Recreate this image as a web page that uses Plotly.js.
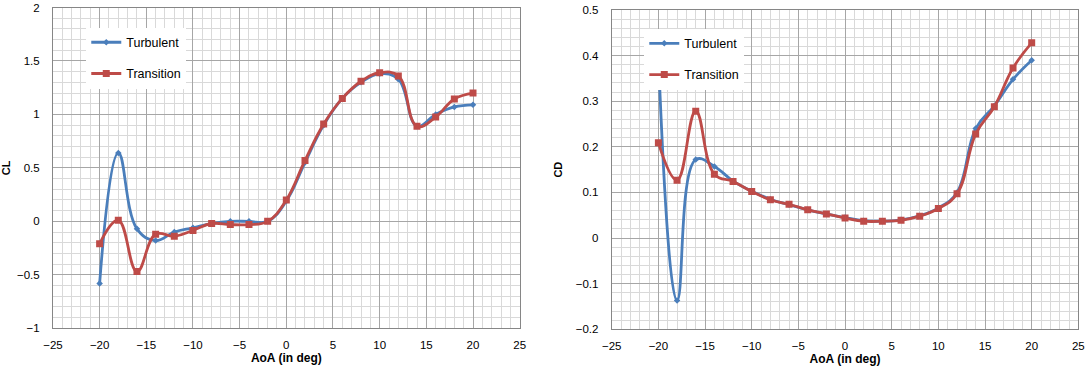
<!DOCTYPE html>
<html>
<head>
<meta charset="utf-8">
<script src="https://cdn.plot.ly/plotly-3.0.1.min.js"></script>
<style>
  html, body { margin: 0; padding: 0; background: #ffffff; }
  #chart { width: 1092px; height: 368px; }
</style>
</head>
<body>
<div id="chart"></div>
<script>
// Angle of attack (deg)
const aoa = [-20, -18, -16, -14, -12, -10, -8, -6, -4, -2, 0, 2, 4, 6, 8, 10, 12, 14, 16, 18, 20];

// Lift coefficient
const clTurbulent  = [-0.58, 0.64, -0.07, -0.18, -0.10, -0.06, -0.02, 0.00, 0.00, 0.00, 0.19, 0.55, 0.90, 1.15, 1.30, 1.38, 1.33, 0.89, 1.00, 1.07, 1.09];
const clTransition = [-0.21, 0.01, -0.47, -0.12, -0.14, -0.085, -0.02, -0.03, -0.03, 0.00, 0.20, 0.57, 0.91, 1.15, 1.31, 1.39, 1.36, 0.89, 0.975, 1.145, 1.20];

// Drag coefficient
const cdTurbulent  = [0.40, -0.137, 0.172, 0.157, 0.125, 0.103, 0.085, 0.073, 0.062, 0.053, 0.045, 0.038, 0.037, 0.040, 0.049, 0.066, 0.100, 0.240, 0.290, 0.348, 0.390];
const cdTransition = [0.209, 0.127, 0.278, 0.140, 0.124, 0.102, 0.084, 0.074, 0.062, 0.053, 0.044, 0.037, 0.037, 0.039, 0.048, 0.065, 0.097, 0.228, 0.288, 0.373, 0.428];

const BLUE = '#4a7ebb';
const RED = '#be4b48';
const FONT = 'Liberation Sans, Arial, sans-serif';

function series(x, y, name, color, symbol, size, xa, ya, legend) {
  return {
    x: x, y: y, name: name, type: 'scatter', mode: 'lines+markers',
    line: { color: color, width: 2.8, shape: 'spline', smoothing: 1.2 },
    marker: { color: color, symbol: symbol, size: size },
    xaxis: xa, yaxis: ya, legend: legend, legendgroup: legend + name,
    hoverinfo: 'x+y'
  };
}

const traces = [
  series(aoa, clTurbulent,  'Turbulent',  BLUE, 'diamond', 5, 'x',  'y',  'legend'),
  series(aoa, clTransition, 'Transition', RED,  'square',  7, 'x',  'y',  'legend'),
  series(aoa, cdTurbulent,  'Turbulent',  BLUE, 'diamond', 5, 'x2', 'y2', 'legend2'),
  series(aoa, cdTransition, 'Transition', RED,  'square',  7, 'x2', 'y2', 'legend2')
];

function xAxis(domain, anchor) {
  return {
    domain: domain, anchor: anchor, range: [-25, 25],
    tickmode: 'linear', tick0: -25, dtick: 5,
    showgrid: true, gridcolor: '#a6a6a6', gridwidth: 1,
    minor: { dtick: 1, showgrid: true, gridcolor: '#d9d9d9', gridwidth: 1 },
    zeroline: false, showline: true, linecolor: '#868686', linewidth: 1, mirror: true,
    ticks: '', ticklabelstandoff: 6,
    tickfont: { family: FONT, size: 11.5, color: '#000' },
    title: { text: '<b>AoA (in deg)</b>', font: { family: FONT, size: 12, color: '#000' }, standoff: 2 }
  };
}

function yAxis(domain, anchor, range, dtick, minor, title) {
  return {
    domain: domain, anchor: anchor, range: range,
    tickmode: 'linear', tick0: range[0], dtick: dtick,
    showgrid: true, gridcolor: '#a6a6a6', gridwidth: 1,
    minor: { dtick: minor, showgrid: true, gridcolor: '#d9d9d9', gridwidth: 1 },
    zeroline: false, showline: true, linecolor: '#868686', linewidth: 1, mirror: true,
    ticks: '', ticklabelstandoff: 10,
    tickfont: { family: FONT, size: 11.5, color: '#000' },
    title: { text: '<b>' + title + '</b>', font: { family: FONT, size: 11, color: '#000' }, standoff: 10 }
  };
}

function legendBox(x, y) {
  return {
    x: x, y: y, xanchor: 'left', yanchor: 'top',
    bgcolor: '#ffffff', borderwidth: 0,
    font: { family: FONT, size: 12.5, color: '#000' },
    tracegroupgap: 12, itemwidth: 30, traceorder: 'grouped',
    entrywidth: 62
  };
}

const layout = {
  width: 1092, height: 368,
  margin: { l: 0, r: 0, t: 0, b: 0 },
  paper_bgcolor: '#ffffff', plot_bgcolor: '#ffffff',
  showlegend: true,
  xaxis: xAxis([0.0485, 0.4759], 'y'),
  yaxis: yAxis([0.1079, 0.9796], 'x', [-1, 2], 0.5, 0.1, 'CL'),
  xaxis2: xAxis([0.5602, 0.9875], 'y2'),
  yaxis2: yAxis([0.1052, 0.9728], 'x2', [-0.2, 0.5], 0.1, 0.02, 'CD'),
  legend: legendBox(0.079, 0.925),
  legend2: legendBox(0.590, 0.922)
};

Plotly.newPlot('chart', traces, layout, { displayModeBar: false, staticPlot: true });
</script>
</body>
</html>
